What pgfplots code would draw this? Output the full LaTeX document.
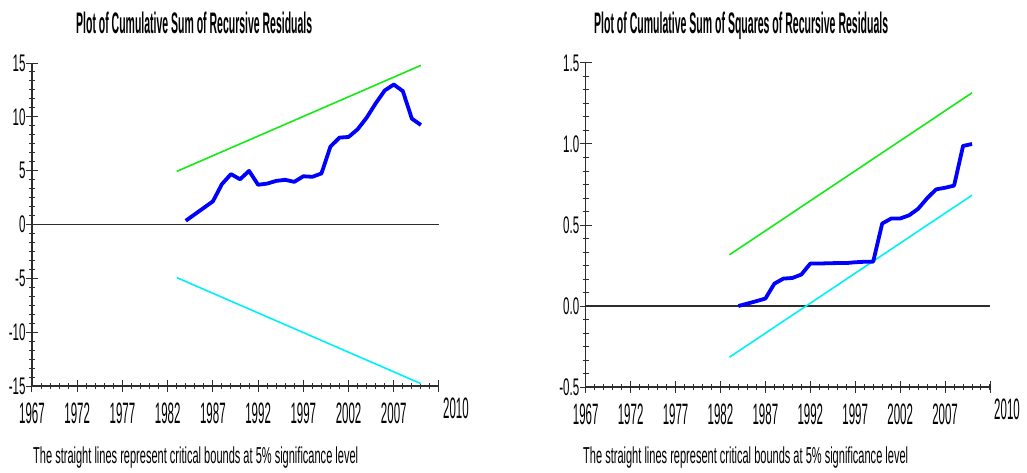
\documentclass[border=0pt]{standalone}
\usepackage{fontspec}
\setmainfont{Liberation Sans}
\newfontfamily\xtickfont{Liberation Sans}[FakeStretch=0.39]
\newfontfamily\ytickfont{Liberation Sans}[FakeStretch=0.48]
\usepackage{graphicx}
\usepackage{pgfplots}
\pgfplotsset{compat=1.18}

\definecolor{cusumblue}{RGB}{0,0,255}
\definecolor{boundgreen}{RGB}{20,235,20}
\definecolor{boundcyan}{RGB}{0,240,250}
\definecolor{axisgray}{RGB}{45,45,45}

% CUSUM statistic, 1984-2010
\pgfplotstableread{
year cusum
1984 0.35
1985 0.95
1986 1.55
1987 2.15
1988 3.75
1989 4.68
1990 4.20
1991 4.98
1992 3.69
1993 3.80
1994 4.05
1995 4.15
1996 3.96
1997 4.48
1998 4.43
1999 4.74
2000 7.24
2001 8.07
2002 8.13
2003 8.84
2004 9.92
2005 11.25
2006 12.45
2007 13.00
2008 12.39
2009 9.83
2010 9.24
}\cusumtab

% CUSUM of squares statistic, 1984-2010
\pgfplotstableread{
year cusumsq
1984 0.000
1985 0.015
1986 0.030
1987 0.046
1988 0.138
1989 0.169
1990 0.173
1991 0.194
1992 0.262
1993 0.262
1994 0.264
1995 0.265
1996 0.265
1997 0.270
1998 0.273
1999 0.274
2000 0.509
2001 0.540
2002 0.540
2003 0.560
2004 0.600
2005 0.665
2006 0.720
2007 0.730
2008 0.743
2009 0.988
2010 1.000
}\cusumsqtab

\pgfplotsset{
  mfit/.style={
    scale only axis, anchor=south west,
    axis x line=bottom, axis y line=left,
    axis line style={-, axisgray, line width=1.2pt},
    xmin=1967, xmax=2012,
    xtick={1967,1972,...,2012},
    xticklabels={1967,1972,1977,1982,1987,1992,1997,2002,2007,{}},
    minor xtick={1967,...,2012},
    extra x ticks={2012}, extra x tick labels={2010},
    extra x tick style={xticklabel style={xshift=17pt,yshift=5pt}},
    minor y tick num=5,
    tick align=center,
    major tick length=12pt, minor tick length=6pt,
    tick style={axisgray, line width=1pt},
    xticklabel style={font=\xtickfont\fontsize{29.5}{29.5}\selectfont, black, yshift=-7pt},
    yticklabel style={font=\ytickfont\fontsize{24}{24}\selectfont, black, xshift=3pt},
    clip=false,
  },
  stat/.style={cusumblue, line width=3.8pt, line join=round, no marks},
  upper/.style={boundgreen, line width=1.6pt, no marks},
  lower/.style={boundcyan, line width=1.6pt, no marks},
  zero/.style={axisgray, line width=1.3pt, no marks},
}

\begin{document}
\begin{tikzpicture}
\path[use as bounding box] (0,0) rectangle (1027pt,472pt);

% Left panel: CUSUM
\begin{axis}[mfit, at={(32pt,86pt)}, width=407pt, height=323pt,
  ymin=-15, ymax=15, ytick={-15,-10,...,15},
  yticklabels={-15,-10,-5,0,5,10,15}]
  \addplot[zero] coordinates {(1967,0) (2012,0)};
  \addplot[upper] coordinates {(1983,4.93) (2010,14.78)};
  \addplot[lower] coordinates {(1983,-4.93) (2010,-14.78)};
  \addplot[stat] table[x=year,y=cusum] {\cusumtab};
\end{axis}

% Right panel: CUSUM of squares
\begin{axis}[mfit, at={(585.7pt,85pt)}, width=404.3pt, height=324pt,
  ymin=-0.5, ymax=1.5, ytick={-0.5,0,...,1.5},
  yticklabels={-0.5,0.0,0.5,1.0,1.5}]
  \addplot[zero] coordinates {(1967,0) (2012,0)};
  \addplot[upper] coordinates {(1983,0.316) (2010,1.316)};
  \addplot[lower] coordinates {(1983,-0.316) (2010,0.684)};
  \addplot[stat] table[x=year,y=cusumsq] {\cusumsqtab};
\end{axis}

\node[anchor=base west, inner sep=0] at (76pt,438.7pt)
  {\resizebox{236pt}{21.5pt}{\bfseries Plot of Cumulative Sum of Recursive Residuals}};
\node[anchor=base west, inner sep=0] at (594pt,438.7pt)
  {\resizebox{294pt}{21.5pt}{\bfseries Plot of Cumulative Sum of Squares of Recursive Residuals}};
\node[anchor=base west, inner sep=0] at (33pt,8.7pt)
  {\resizebox{325pt}{16.7pt}{The straight lines represent critical bounds at 5\% significance level}};
\node[anchor=base west, inner sep=0] at (583pt,8.7pt)
  {\resizebox{325pt}{16.7pt}{The straight lines represent critical bounds at 5\% significance level}};
\end{tikzpicture}
\end{document}
